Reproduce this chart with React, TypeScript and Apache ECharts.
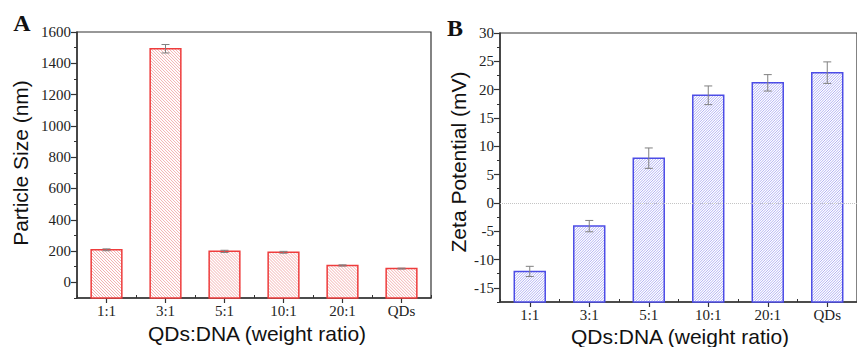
import React, { useEffect, useRef } from "react";
import * as echarts from "echarts";

const categories = ["1:1", "3:1", "5:1", "10:1", "20:1", "QDs"];
const sizeValues = [208, 1493, 198, 192, 108, 88];
const sizeErrors = [6, 27, 7, 6, 4, 3];
const zetaValues = [-12.1, -4.1, 7.9, 19.0, 21.2, 23.0];
const zetaErrors = [0.9, 1.0, 1.8, 1.65, 1.45, 1.9];
const sizeTicks = [0, 200, 400, 600, 800, 1000, 1200, 1400, 1600];
const zetaTicks = [-15, -10, -5, 0, 5, 10, 15, 20, 25, 30];

const SERIF = "'Times New Roman', 'Liberation Serif', 'DejaVu Serif', serif";
const SANS = "Arial, 'Liberation Sans', Helvetica, sans-serif";
const AXIS = "#333";

function makeRenderItem(baseValue: number, edge: string, hatch: string, dir: number, step: number) {
  return (params: any, api: any) => {
    const i = api.value(0);
    const v = api.value(1);
    const e = api.value(2);
    const top = api.coord([i, v]);
    const bottom = api.coord([i, baseValue]);
    const w = api.size([1, 0])[0] * 0.52;
    const x0 = top[0] - w / 2;
    const x1 = top[0] + w / 2;
    const y0 = Math.min(top[1], bottom[1]);
    const y1 = Math.max(top[1], bottom[1]);
    const children: any[] = [];
    children.push({ type: "rect", shape: { x: x0, y: y0, width: w, height: y1 - y0 }, style: { fill: "#fff" } });
    if (dir > 0) {
      for (let c = y0 - x1; c <= y1 - x0; c += step) {
        const xa = Math.max(x0, y0 - c);
        const xb = Math.min(x1, y1 - c);
        if (xb > xa) {
          children.push({ type: "line", shape: { x1: xa, y1: xa + c, x2: xb, y2: xb + c }, style: { stroke: hatch, lineWidth: 0.8 } });
        }
      }
    } else {
      for (let c = x0 + y0; c <= x1 + y1; c += step) {
        const xa = Math.max(x0, c - y1);
        const xb = Math.min(x1, c - y0);
        if (xb > xa) {
          children.push({ type: "line", shape: { x1: xa, y1: c - xa, x2: xb, y2: c - xb }, style: { stroke: hatch, lineWidth: 0.8 } });
        }
      }
    }
    children.push({ type: "rect", shape: { x: x0, y: y0, width: w, height: y1 - y0 }, style: { fill: "none", stroke: edge, lineWidth: 1.5 } });
    const hi = api.coord([i, v + e]);
    const lo = api.coord([i, v - e]);
    const cap = 4;
    const eb = { stroke: "#808080", lineWidth: 1 };
    children.push({ type: "line", shape: { x1: top[0], y1: hi[1], x2: top[0], y2: lo[1] }, style: eb });
    children.push({ type: "line", shape: { x1: top[0] - cap, y1: hi[1], x2: top[0] + cap, y2: hi[1] }, style: eb });
    children.push({ type: "line", shape: { x1: top[0] - cap, y1: lo[1], x2: top[0] + cap, y2: lo[1] }, style: eb });
    return { type: "group", children };
  };
}

export default function App() {
  const ref = useRef<HTMLDivElement>(null);
  useEffect(() => {
    if (!ref.current) return;
    const chart = echarts.init(ref.current, null, { renderer: "svg" });
    const labelStyle = { color: "#222", fontFamily: SERIF, fontSize: 15 };
    const majorY = (gridIndex: number, min: number, max: number, interval: number, ticks: number[]) => ({
      type: "value",
      gridIndex,
      min,
      max,
      interval,
      position: "left",
      axisLine: { show: true, onZero: false, lineStyle: { color: AXIS, width: 1.5 } },
      axisTick: { show: true, length: 6, customValues: ticks, lineStyle: { color: AXIS, width: 1.2 } },
      axisLabel: {
        ...labelStyle,
        margin: 6,
        customValues: ticks,
        formatter: (val: number) => (ticks.indexOf(val) >= 0 ? String(val) : ""),
      },
      splitLine: { show: false },
    });
    const minorY = (gridIndex: number, min: number, max: number, interval: number) => ({
      type: "value",
      gridIndex,
      min,
      max,
      interval,
      position: "left",
      axisLine: { show: false, onZero: false },
      axisTick: { show: true, length: 3, lineStyle: { color: AXIS, width: 1 } },
      axisLabel: { show: false },
      splitLine: { show: false },
    });
    const majorX = (gridIndex: number) => ({
      type: "category",
      gridIndex,
      data: categories,
      position: "bottom",
      axisLine: { show: true, onZero: false, lineStyle: { color: AXIS, width: 1.5 } },
      axisTick: { show: true, alignWithLabel: true, length: 5, lineStyle: { color: AXIS, width: 1.2 } },
      axisLabel: { ...labelStyle, margin: 5 },
      splitLine: { show: false },
    });
    const minorX = (gridIndex: number) => ({
      type: "category",
      gridIndex,
      data: categories,
      position: "bottom",
      axisLine: { show: false, onZero: false },
      axisTick: { show: true, inside: true, length: 3, lineStyle: { color: AXIS, width: 1 } },
      axisLabel: { show: false },
      splitLine: { show: false },
    });

    const sizeData = categories.map((c, i) => [i, sizeValues[i], sizeErrors[i]]);
    const zetaData = categories.map((c, i) => [i, zetaValues[i], zetaErrors[i]]);

    chart.setOption({
      animation: false,
      backgroundColor: "#fff",
      grid: [
        { left: 77, top: 32, right: 426, bottom: 49, show: true, borderColor: AXIS, borderWidth: 1.2, backgroundColor: "transparent" },
        { left: 500, top: 33, right: -5, bottom: 45, show: true, borderColor: AXIS, borderWidth: 1.2, backgroundColor: "transparent" },
      ],
      xAxis: [majorX(0), minorX(0), majorX(1), minorX(1)],
      yAxis: [
        majorY(0, -100, 1600, 100, sizeTicks),
        minorY(0, -100, 1600, 100),
        majorY(1, -17.5, 30, 2.5, zetaTicks),
        minorY(1, -17.5, 30, 2.5),
      ],
      series: [
        {
          type: "custom",
          xAxisIndex: 0,
          yAxisIndex: 0,
          data: sizeData,
          renderItem: makeRenderItem(-100, "#ee3c3c", "#f09a9a", 1, 3),
          encode: { x: 0, y: 1 },
        },
        {
          type: "custom",
          xAxisIndex: 2,
          yAxisIndex: 2,
          data: zetaData,
          renderItem: makeRenderItem(-17.5, "#4c4ce6", "#9e9ef0", -1, 2.6),
          encode: { x: 0, y: 1 },
          markLine: {
            silent: true,
            symbol: ["none", "none"],
            label: { show: false },
            lineStyle: { color: "#c4c4c4", type: "dotted", width: 1 },
            data: [{ yAxis: 0 }],
          },
        },
      ],
      graphic: [
        { type: "text", x: 22, y: 23, style: { text: "A", font: `bold 24px ${SERIF}`, fill: "#111", textAlign: "center", textVerticalAlign: "middle" } },
        { type: "text", x: 455, y: 28, style: { text: "B", font: `bold 24px ${SERIF}`, fill: "#111", textAlign: "center", textVerticalAlign: "middle" } },
        { type: "text", x: 20, y: 163, rotation: Math.PI / 2, style: { text: "Particle Size (nm)", font: `21px ${SANS}`, fill: "#111", textAlign: "center", textVerticalAlign: "middle" } },
        { type: "text", x: 458, y: 162, rotation: Math.PI / 2, style: { text: "Zeta Potential (mV)", font: `21px ${SANS}`, fill: "#111", textAlign: "center", textVerticalAlign: "middle" } },
        { type: "text", x: 257, y: 333, style: { text: "QDs:DNA (weight ratio)", font: `21px ${SANS}`, fill: "#111", textAlign: "center", textVerticalAlign: "middle" } },
        { type: "text", x: 680, y: 336, style: { text: "QDs:DNA (weight ratio)", font: `21px ${SANS}`, fill: "#111", textAlign: "center", textVerticalAlign: "middle" } },
      ],
    });
    return () => chart.dispose();
  }, []);
  return <div ref={ref} style={{ position: "fixed", left: 0, top: 0, width: 857, height: 347 }} />;
}
